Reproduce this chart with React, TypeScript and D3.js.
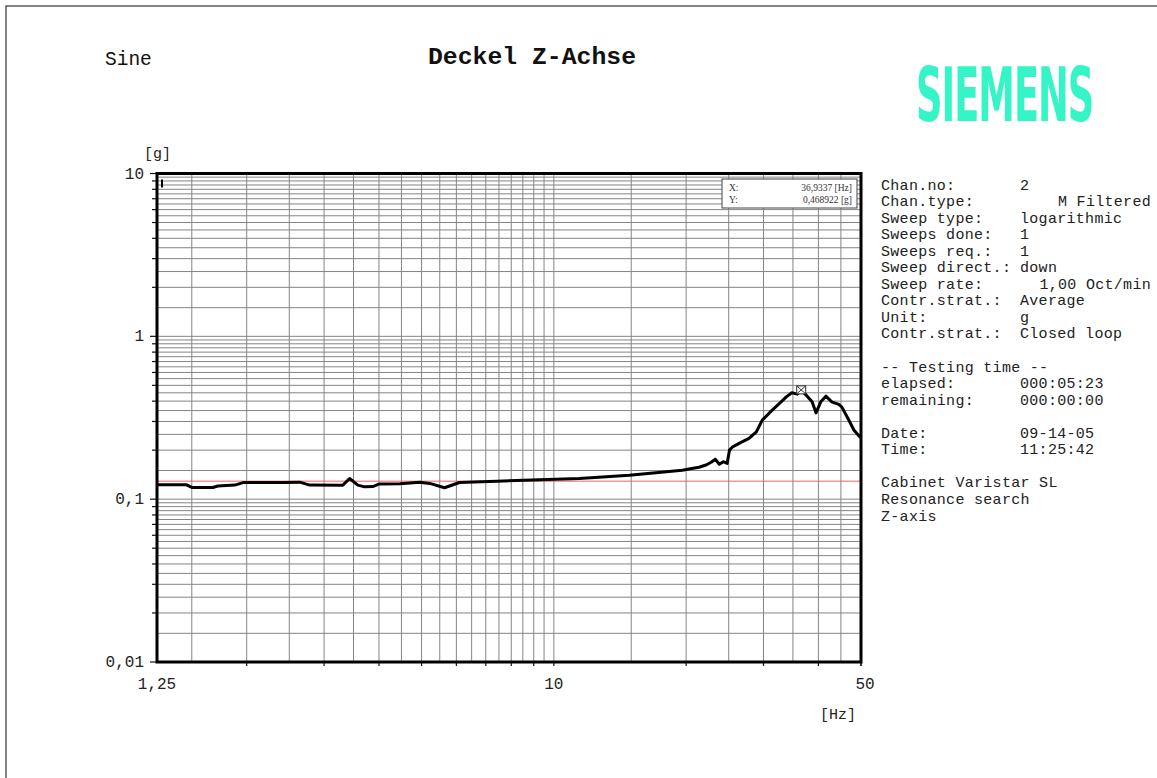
import React from "react";
import * as d3 from "d3";

// ---- data ----
const freqHz = [
  1.25, 1.46, 1.5, 1.675, 1.72, 1.88, 1.97, 2.44, 2.64, 2.78, 3.31, 3.43, 3.58, 3.71, 3.87,
  4.01, 4.46, 4.95, 5.22, 5.64, 6.1, 7.41, 9.28, 11.43, 14.85, 19.6, 20.3, 21.4, 22.2, 22.8,
  23.3, 23.8, 24.3, 24.8, 25.1, 25.5, 26.4, 27.8, 28.9, 29.8, 31.4, 32.9, 33.8, 34.8, 35.8,
  36.7, 37.7, 38.7, 39.5, 40.5, 41.6, 42.9, 44.5, 45.2, 46.9, 48.2, 49.5, 50,
];
const amplitudeG = [
  0.1224, 0.1224, 0.118, 0.118, 0.1205, 0.122, 0.1267, 0.1267, 0.1272, 0.122, 0.1219, 0.134,
  0.1219, 0.119, 0.1195, 0.124, 0.1245, 0.1272, 0.125, 0.1175, 0.1266, 0.129, 0.1314, 0.134,
  0.1404, 0.1507, 0.153, 0.157, 0.162, 0.1686, 0.176, 0.164, 0.17, 0.166, 0.2, 0.209, 0.22,
  0.236, 0.259, 0.306, 0.352, 0.396, 0.425, 0.45, 0.4416, 0.4627, 0.4292, 0.396, 0.339, 0.396,
  0.429, 0.396, 0.382, 0.369, 0.306, 0.265, 0.244, 0.238,
];
const xTickValues = [1.25, 10, 50];
const xTickLabels = ["1,25", "10", "50"];
const yTickValues = [0.01, 0.1, 1, 10];
const yTickLabels = ["0,01", "0,1", "1", "10"];
const referenceLevelG = 0.129;
const cursorHz = 36.9337;
const cursorG = 0.468922;
const cursorLabels = ["36,9337 [Hz]", "0,468922 [g]"];

const infoRows: [string, string, boolean][] = [
  ["Chan.no:", "2", false],
  ["Chan.type:", "M Filtered", true],
  ["Sweep type:", "logarithmic", false],
  ["Sweeps done:", "1", false],
  ["Sweeps req.:", "1", false],
  ["Sweep direct.:", "down", false],
  ["Sweep rate:", "1,00 Oct/min", true],
  ["Contr.strat.:", "Average", false],
  ["Unit:", "g", false],
  ["Contr.strat.:", "Closed loop", false],
  ["", "", false],
  ["-- Testing time --", "", false],
  ["elapsed:", "000:05:23", false],
  ["remaining:", "000:00:00", false],
  ["", "", false],
  ["Date:", "09-14-05", false],
  ["Time:", "11:25:42", false],
  ["", "", false],
  ["Cabinet Varistar SL", "", false],
  ["Resonance search", "", false],
  ["Z-axis", "", false],
];

const W = 1157;
const H = 778;
const plot = { left: 157, right: 861, top: 173.5, bottom: 662 };
const mono = "'Liberation Mono', 'Courier New', 'DejaVu Sans Mono', monospace";

export default function App() {
  const x = d3.scaleLog().domain([1.25, 50]).range([plot.left, plot.right]);
  const y = d3.scaleLog().domain([0.01, 10]).range([plot.bottom, plot.top]);

  const xGrid: number[] = [];
  const xTicks: number[] = [];
  [1, 10].forEach((b) => {
    for (let k = 1; k <= 9.5; k += 0.5) {
      const v = k * b;
      if (v > 1.25 + 1e-9 && v < 50 - 1e-9) xGrid.push(v);
      if (Number.isInteger(k) && v > 1.25 && v <= 50) xTicks.push(v);
    }
  });
  xTicks.push(50);
  const yGrid: number[] = [];
  const yTicks: number[] = [];
  [0.01, 0.1, 1].forEach((b) => {
    for (let k = 1; k <= 9.5; k += 0.5) {
      const v = k * b;
      if (v > 0.01 * 1.0001 && v < 10 / 1.0001) yGrid.push(v);
      if (Number.isInteger(k)) yTicks.push(v);
    }
  });
  yTicks.push(10);

  const line = d3
    .line<number>()
    .x((_, i) => x(freqHz[i]))
    .y((d) => y(d));
  const path = line(amplitudeG) || "";

  const cx = x(cursorHz) - 2;
  const cy = y(cursorG);

  return (
    <svg
      width={W}
      height={H}
      style={{ position: "absolute", left: 0, top: 0, background: "#fff" }}
    >
      <rect x={6} y={6} width={1300} height={1000} fill="none" stroke="#333" strokeWidth={1.2} />

      <text x={105} y={65} fontFamily={mono} fontSize={19.5} fill="#111">Sine</text>
      <text x={428} y={64} fontFamily={mono} fontSize={23} fontWeight="bold" fill="#111"
        textLength={208} lengthAdjust="spacingAndGlyphs">Deckel Z-Achse</text>
      <g transform="translate(916,121) scale(0.49,1)">
        <text x={0} y={0} fontFamily="'DejaVu Sans', sans-serif" fontSize={75} fontWeight="bold"
          fill="#35f5c6" letterSpacing={-2}>SIEMENS</text>
      </g>

      {/* grid */}
      {yGrid.map((v, i) => (
        <line key={"yg" + i} x1={plot.left} x2={plot.right} y1={y(v)} y2={y(v)}
          stroke="#858585" strokeWidth={1} />
      ))}
      {xGrid.map((v, i) => (
        <line key={"xg" + i} x1={x(v)} x2={x(v)} y1={plot.top} y2={plot.bottom}
          stroke="#858585" strokeWidth={1} />
      ))}
      {/* ticks */}
      {yTicks.map((v, i) => (
        <line key={"yt" + i} x1={plot.left - ([0.01, 0.1, 1, 10].includes(v) ? 7 : 5)} x2={plot.left}
          y1={y(v)} y2={y(v)} stroke="#111" strokeWidth={1.2} />
      ))}
      {xTicks.map((v, i) => (
        <line key={"xt" + i} x1={x(v)} x2={x(v)} y1={plot.bottom} y2={plot.bottom + 4}
          stroke="#111" strokeWidth={1.2} />
      ))}

      {/* reference level */}
      <line x1={plot.left} x2={plot.right} y1={y(referenceLevelG)} y2={y(referenceLevelG)}
        stroke="#f06060" strokeWidth={1} />

      {/* frame */}
      <rect x={plot.left} y={plot.top} width={plot.right - plot.left} height={plot.bottom - plot.top}
        fill="none" stroke="#000" strokeWidth={3} />

      {/* start marker */}
      <line x1={x(1.25) + 5} x2={x(1.25) + 5} y1={plot.top + 6} y2={plot.top + 14} stroke="#000" strokeWidth={2} />

      {/* curve */}
      <path d={path} fill="none" stroke="#000" strokeWidth={3} strokeLinejoin="round" />

      {/* cursor marker */}
      <rect x={cx - 4.5} y={cy - 4} width={9} height={8} fill="#fff" stroke="#333" strokeWidth={1} />
      <line x1={cx - 4.5} y1={cy - 4} x2={cx + 4.5} y2={cy + 4} stroke="#333" strokeWidth={1} />
      <line x1={cx + 4.5} y1={cy - 4} x2={cx - 4.5} y2={cy + 4} stroke="#333" strokeWidth={1} />

      {/* cursor box */}
      <rect x={722} y={179} width={135} height={29} fill="#fff" stroke="#444" strokeWidth={1} />
      <text x={729} y={191} fontFamily="'Liberation Serif', serif" fontSize={9.5} fill="#333">X:</text>
      <text x={729} y={203} fontFamily="'Liberation Serif', serif" fontSize={9.5} fill="#333">Y:</text>
      <text x={852} y={191} textAnchor="end" fontFamily="'Liberation Serif', serif" fontSize={9.5} fill="#333">{cursorLabels[0]}</text>
      <text x={852} y={203} textAnchor="end" fontFamily="'Liberation Serif', serif" fontSize={9.5} fill="#333">{cursorLabels[1]}</text>

      {/* axis labels */}
      {yTickValues.map((v, i) => (
        <text key={"yl" + i} x={144} y={y(v) + 5} textAnchor="end" fontFamily={mono} fontSize={16} fill="#222">
          {yTickLabels[i]}
        </text>
      ))}
      {xTickValues.map((v, i) => (
        <text key={"xl" + i} x={x(v) + (i === 2 ? 4 : 0)} y={689} textAnchor="middle" fontFamily={mono} fontSize={16} fill="#222">
          {xTickLabels[i]}
        </text>
      ))}
      <text x={144} y={158} fontFamily={mono} fontSize={15} fill="#222">[g]</text>
      <text x={820} y={719} fontFamily={mono} fontSize={15} fill="#222">[Hz]</text>

      {/* info panel */}
      {infoRows.map(([label, value, right], i) => {
        const yy = 189.5 + i * 16.55;
        return (
          <g key={"info" + i}>
            <text x={881} y={yy} fontFamily={mono} fontSize={15} letterSpacing={0.3} fill="#222">{label}</text>
            {value && (
              <text x={right ? 1151 : 1020} y={yy} textAnchor={right ? "end" : "start"}
                fontFamily={mono} fontSize={15} letterSpacing={0.3} fill="#222">{value}</text>
            )}
          </g>
        );
      })}
    </svg>
  );
}
